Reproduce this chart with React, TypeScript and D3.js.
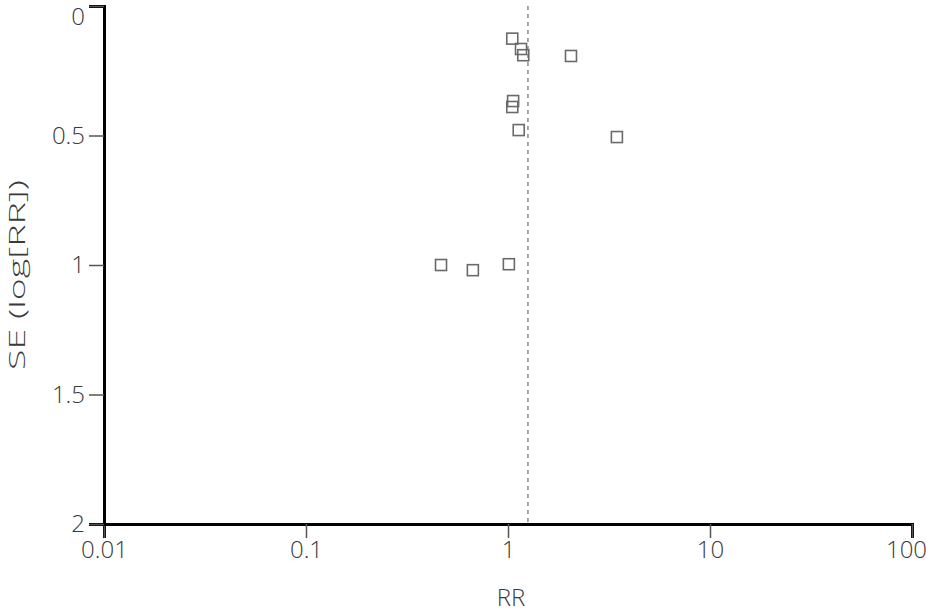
import { useEffect, useRef } from 'react';
import * as d3 from 'd3';

// study estimates
const rrValues = [1.05, 1.16, 1.19, 2.05, 1.06, 1.05, 1.13, 3.46, 0.466, 0.67, 1.01];
const seValues = [0.126, 0.166, 0.19, 0.193, 0.367, 0.39, 0.479, 0.506, 1.0, 1.02, 0.997];
const pooledRR = 1.255;

const xTicks = [0.01, 0.1, 1, 10, 100];
const xTickLabels = ['0.01', '0.1', '1', '10', '100'];
const yTicks = [0, 0.5, 1, 1.5, 2];
const yTickLabels = ['0', '0.5', '1', '1.5', '2'];

export default function App() {
  const svgRef = useRef<SVGSVGElement | null>(null);
  const width = 931;
  const height = 613;

  useEffect(() => {
    if (!svgRef.current) return;
    const svg = d3.select(svgRef.current);
    svg.selectAll('*').remove();

    const margin = { top: 6, right: 19, bottom: 89, left: 104 };
    const font = "'Open Sans', 'DejaVu Sans', sans-serif";
    const textColor = '#3a3a3a';

    const x = d3.scaleLog()
      .domain([0.01, 100])
      .range([margin.left, width - margin.right]);

    const y = d3.scaleLinear()
      .domain([0, 2])
      .range([margin.top, height - margin.bottom]);

    // pooled estimate line
    svg.append('line')
      .attr('x1', x(pooledRR)).attr('x2', x(pooledRR))
      .attr('y1', y(0)).attr('y2', y(2))
      .attr('stroke', '#8a8a8a')
      .attr('stroke-width', 1.5)
      .attr('stroke-dasharray', '4,4');

    // study squares
    const size = 11;
    svg.append('g')
      .selectAll('rect')
      .data(rrValues.map((rr, i) => ({ rr, se: seValues[i] })))
      .enter().append('rect')
      .attr('x', d => x(d.rr) - size / 2)
      .attr('y', d => y(d.se) - size / 2)
      .attr('width', size)
      .attr('height', size)
      .attr('fill', 'none')
      .attr('stroke', '#6a6a6a')
      .attr('stroke-width', 1.6);

    // x axis
    const xAxis = svg.append('g')
      .attr('transform', `translate(0,${y(2)})`)
      .call(d3.axisBottom(x)
        .tickValues(xTicks)
        .tickFormat((d, i) => xTickLabels[i])
        .tickSizeOuter(0)
        .tickSize(14)
        .tickPadding(3));
    xAxis.select('.domain').attr('stroke', '#000').attr('stroke-width', 3);
    xAxis.selectAll('.tick line').attr('stroke', '#555').attr('stroke-width', 1.5);
    xAxis.selectAll('text')
      .style('font-family', font)
      .style('font-size', '24px')
      .style('font-weight', 300)
      .attr('fill', textColor)
      .attr('x', (d: any) => (d === 100 ? -6 : 0));

    // y axis
    const yAxis = svg.append('g')
      .attr('transform', `translate(${x(0.01)},0)`)
      .call(d3.axisLeft(y)
        .tickValues(yTicks)
        .tickFormat((d, i) => yTickLabels[i])
        .tickSizeOuter(0)
        .tickSize(15)
        .tickPadding(4));
    yAxis.select('.domain').attr('stroke', '#000').attr('stroke-width', 3);
    yAxis.selectAll('.tick line').attr('stroke', '#555').attr('stroke-width', 1.5);
    yAxis.selectAll('text')
      .style('font-family', font)
      .style('font-size', '24px')
      .style('font-weight', 300)
      .attr('fill', textColor)
      .attr('y', (d: any) => (d === 0 ? 11 : 0));

    // axis titles
    svg.append('text')
      .attr('x', (x(0.01) + x(100)) / 2 + 3)
      .attr('y', 606)
      .attr('text-anchor', 'middle')
      .style('font-family', font)
      .style('font-size', '24px')
      .style('font-weight', 300)
      .attr('fill', textColor)
      .text('RR');

    svg.append('text')
      .attr('transform', `translate(25,275) rotate(-90)`)
      .attr('text-anchor', 'middle')
      .attr('textLength', 190)
      .attr('lengthAdjust', 'spacingAndGlyphs')
      .style('font-family', font)
      .style('font-size', '22px')
      .style('font-weight', 300)
      .attr('fill', textColor)
      .text('SE (log[RR])');
  }, []);

  return (
    <svg
      ref={svgRef}
      width={width}
      height={height}
      style={{ position: 'absolute', left: 0, top: 0, background: '#fff' }}
    />
  );
}
